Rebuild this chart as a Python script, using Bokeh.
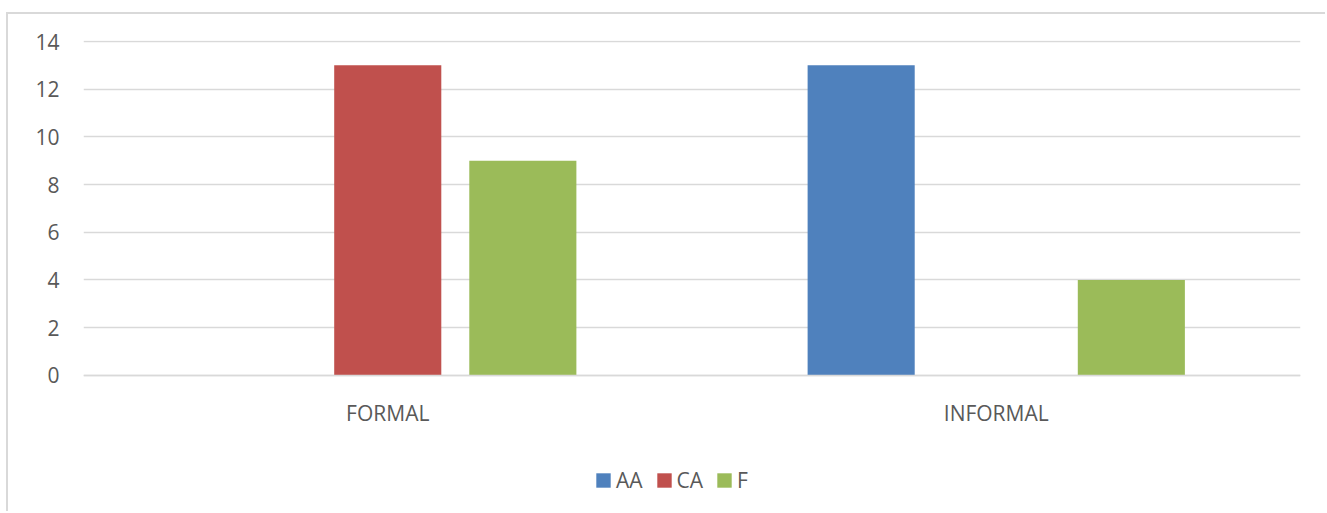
from bokeh.plotting import figure
from bokeh.models import (ColumnDataSource, FactorRange, Range1d, Legend, LegendItem,
                          FixedTicker)
from bokeh.transform import dodge
from bokeh.embed import file_html
from bokeh.resources import INLINE

# Data
categories = ["FORMAL", "INFORMAL"]
series_names = ["AA", "CA", "F"]
aa_values = [0, 13]
ca_values = [13, 0]
f_values = [9, 4]
y_ticks = [0, 2, 4, 6, 8, 10, 12, 14]

colors = {"AA": "#4F81BD", "CA": "#C0504D", "F": "#9BBB59"}
offsets = {"AA": -0.222, "CA": 0.0, "F": 0.222}
bar_width = 0.176

source = ColumnDataSource(data=dict(cat=categories, AA=aa_values, CA=ca_values, F=f_values))

FONT = "Open Sans"
TEXT_COLOR = "#595959"
GRID_COLOR = "#D9D9D9"

# The frame runs down to the bottom edge so the category axis (pinned at y=0)
# and the legend both sit inside it.
p = figure(
    width=1319, height=499,
    x_range=FactorRange(factors=categories, range_padding=0),
    y_range=Range1d(-5.793, 14.042),
    output_backend="svg", toolbar_location=None,
    min_border_left=75, min_border_right=27, min_border_top=26, min_border_bottom=0,
)
p.margin = (12, 0, 0, 6)
p.styles = {"border-left": "2px solid #D9D9D9", "border-top": "2px solid #D9D9D9"}
p.outline_line_color = None
p.background_fill_color = "white"
p.border_fill_color = "white"

renderers = {}
for name in series_names:
    renderers[name] = p.vbar(
        x=dodge("cat", offsets[name], range=p.x_range), top=name, width=bar_width,
        source=source, fill_color=colors[name], line_color=None,
    )

# Axes
p.yaxis.ticker = FixedTicker(ticks=y_ticks)
p.yaxis.axis_line_color = None
p.yaxis.major_tick_line_color = None
p.yaxis.minor_tick_line_color = None
p.yaxis.major_tick_out = 0
p.yaxis.major_label_standoff = 24
p.yaxis.major_label_text_font = FONT
p.yaxis.major_label_text_font_size = "21px"
p.yaxis.major_label_text_color = TEXT_COLOR

p.xaxis.fixed_location = 0
p.xaxis.axis_line_color = GRID_COLOR
p.xaxis.axis_line_width = 1.5
p.xaxis.major_tick_line_color = None
p.xaxis.minor_tick_line_color = None
p.xaxis.major_tick_out = 0
p.xaxis.major_label_standoff = 24
p.xaxis.major_label_text_font = FONT
p.xaxis.major_label_text_font_size = "21px"
p.xaxis.major_label_text_color = TEXT_COLOR

p.xgrid.grid_line_color = None
p.ygrid.ticker = FixedTicker(ticks=y_ticks)
p.ygrid.grid_line_color = GRID_COLOR
p.ygrid.grid_line_width = 1.5

# Legend centred under the bars
legend = Legend(
    items=[LegendItem(label=n, renderers=[renderers[n]]) for n in series_names],
    orientation="horizontal",
    location=(511, 19),
    padding=0, margin=0, spacing=12,
    glyph_width=18, glyph_height=18, label_height=18,
    label_standoff=4,
    label_text_font=FONT, label_text_font_size="21px", label_text_color=TEXT_COLOR,
    border_line_color=None, background_fill_alpha=0,
)
p.add_layout(legend, "center")

open("out.html", "w").write(file_html(p, INLINE))
